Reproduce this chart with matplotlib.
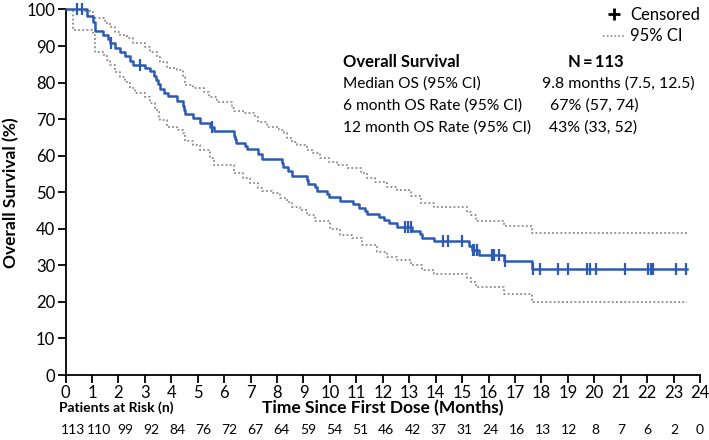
import numpy as np
import matplotlib
matplotlib.use('Agg')
import matplotlib.pyplot as plt
from matplotlib.lines import Line2D

plt.rcParams['font.family'] = 'Lato'

# Kaplan-Meier estimate (step times in months, survival % after the step)
km_times = [0, 0.80, 1.05, 1.12, 1.43, 1.62, 1.70, 1.88, 2.06, 2.25, 2.44, 2.56,
            3.01, 3.20, 3.34, 3.41, 3.51, 3.58, 3.74, 3.89, 4.21, 4.46, 4.50, 4.53,
            4.84, 5.10, 5.45, 5.61, 6.36, 6.40, 6.45, 6.80, 6.87, 7.30, 7.45, 8.18,
            8.24, 8.43, 8.56, 9.12, 9.19, 9.45, 9.50, 9.89, 9.95, 10.39, 10.89, 11.09,
            11.33, 11.40, 11.84, 12.05, 12.22, 12.54, 13.10, 13.40, 13.49, 13.93,
            15.26, 15.38, 15.64, 16.57, 17.65]
km_surv = [100, 98.2, 96.5, 94.0, 93.0, 92.0, 90.8, 89.6, 88.3, 87.2, 86.0, 84.9,
           84.0, 83.1, 81.9, 80.8, 79.5, 78.2, 77.2, 76.3, 74.9, 73.6, 72.4, 71.3,
           70.2, 69.0, 67.8, 66.8, 65.4, 64.5, 63.6, 62.7, 61.8, 60.5, 59.0, 57.9,
           56.8, 55.7, 54.5, 53.4, 52.2, 51.3, 50.4, 49.5, 48.6, 47.7, 46.8, 45.7,
           44.9, 44.0, 43.2, 42.3, 41.5, 40.4, 39.5, 38.5, 37.5, 36.6,
           35.4, 34.1, 32.9, 31.1, 29.1]
last_followup = 23.5

# censored observations
cens_times = [0.45, 0.62, 1.72, 2.80, 5.53, 12.86, 12.95, 13.05, 14.28, 14.47, 14.98,
              15.40, 15.47, 15.55, 16.15, 16.22, 16.38, 16.64, 17.67, 17.93, 18.64,
              19.01, 19.74, 19.83, 20.05, 21.18, 22.04, 22.13, 22.22, 23.08, 23.48]

# 95% confidence band
ci_up_times = [0, 0.74, 1.05, 1.50, 1.69, 1.88, 2.06, 2.32, 2.57, 3.01, 3.20, 3.45,
               3.58, 3.83, 4.21, 4.46, 4.53, 4.84, 5.22, 5.41, 5.73, 6.30, 6.36, 6.73,
               7.18, 7.30, 7.62, 8.06, 8.25, 8.38, 8.57, 8.76, 9.14, 9.33, 9.64, 9.95,
               10.27, 10.65, 11.16, 11.41, 11.72, 12.17, 12.55, 13.05, 13.43, 13.93,
               15.20, 15.32, 15.51, 16.58, 17.66]
ci_up = [100, 99.6, 97.6, 96.2, 95.3, 93.9, 93.0, 92.1, 90.8, 89.8, 88.5, 87.1,
         85.7, 83.9, 83.4, 81.6, 79.3, 78.4, 77.5, 76.1, 74.8, 73.0, 72.3, 71.6,
         70.7, 69.3, 67.9, 67.0, 66.1, 64.8, 63.8, 62.9, 61.6, 60.7, 59.3, 58.4,
         57.5, 56.6, 55.2, 53.8, 52.9, 51.5, 50.6, 49.0, 47.0, 45.9,
         44.7, 43.8, 42.2, 40.8, 38.9]
ci_lo_times = [0, 0.30, 1.05, 1.12, 1.43, 1.56, 1.69, 1.88, 2.06, 2.25, 2.44, 2.63,
               3.01, 3.20, 3.39, 3.52, 3.58, 3.83, 4.21, 4.46, 4.53, 4.84, 5.10, 5.45,
               5.61, 6.36, 6.73, 6.99, 7.30, 7.45, 7.81, 8.13, 8.38, 8.57, 8.88, 9.14,
               9.45, 10.02, 10.40, 10.84, 11.22, 11.79, 12.17, 12.55, 13.05, 13.49,
               13.93, 15.20, 15.32, 15.51, 16.58, 17.66]
ci_lo = [100, 94.4, 93.0, 88.5, 87.6, 86.2, 84.8, 83.0, 81.6, 80.2, 78.4, 77.1,
         76.1, 74.3, 72.5, 70.7, 69.8, 67.9, 66.9, 66.1, 63.9, 63.0, 61.6, 59.5,
         57.5, 55.2, 53.8, 52.4, 51.1, 50.4, 49.7, 48.3, 47.4, 46.0, 45.1, 43.8,
         42.0, 39.9, 38.3, 37.4, 35.6, 33.7, 32.4, 31.5, 30.1, 28.7,
         27.6, 26.5, 25.5, 24.2, 22.2, 20.1]

at_risk = [113, 110, 99, 92, 84, 76, 72, 67, 64, 59, 54, 51, 46, 42, 37, 31, 24,
           16, 13, 12, 8, 7, 6, 2, 0]

table_rows = ['Median OS (95% CI)', '6 month OS Rate (95% CI)', '12 month OS Rate (95% CI)']
table_vals = ['9.8 months (7.5, 12.5)', '67% (57, 74)', '43% (33, 52)']

blue = '#2c5ab4'
grey = '#8a8a8a'

W, H = 709, 440
fig = plt.figure(figsize=(W / 100, H / 100), dpi=100)
ax = fig.add_axes([65.5 / W, 65 / H, (700 - 65.5) / W, (375 - 9.5) / H])


def step_xy(t, s, end):
    return list(t) + [end], list(s) + [s[-1]]


dots = (0, (1, 1.3))
x, y = step_xy(ci_up_times, ci_up, last_followup)
ax.step(x, y, where='post', color=grey, lw=1.3, ls=dots)
x, y = step_xy(ci_lo_times, ci_lo, last_followup)
ax.step(x, y, where='post', color=grey, lw=1.3, ls=dots)
x, y = step_xy(km_times, km_surv, last_followup)
ax.step(x, y, where='post', color=blue, lw=1.8, clip_on=False, zorder=3)

# censor marks sit on the curve
idx = np.searchsorted(km_times, cens_times, side='right') - 1
cens_vals = np.array(km_surv)[idx]
ax.plot(cens_times, cens_vals, ls='none', marker='|', ms=8, mew=1.6,
        color=blue, clip_on=False, zorder=4)

ax.set_xlim(0, 24)
ax.set_ylim(0, 100)
ax.set_xticks(range(0, 25))
ax.set_yticks(range(0, 101, 10))
for side in ['top', 'right']:
    ax.spines[side].set_visible(False)
for side in ['left', 'bottom']:
    ax.spines[side].set_linewidth(1.3)
ax.tick_params(direction='out', length=6, width=1.3, labelsize=12, pad=1.5)
ax.set_ylabel('Overall Survival (%)', fontsize=12.5, fontweight='bold', labelpad=5)

# legend
handles = [Line2D([], [], ls='none', marker='+', ms=9, mew=2, color='black'),
           Line2D([], [], color=grey, lw=1.2, ls=dots)]
ax.legend(handles, ['Censored', '95% CI'], loc='upper right', bbox_to_anchor=(1.018, 1.04),
          frameon=False, fontsize=12, handlelength=1.3, handletextpad=0.3,
          labelspacing=0.35, borderpad=0.2)

# summary table
fig.text(343 / W, 1 - 62 / H, 'Overall Survival', fontsize=12, fontweight='bold', va='center')
fig.text(596 / W, 1 - 62 / H, 'N\u2009=\u2009113', fontsize=12, fontweight='bold',
         va='center', ha='center', family=['Lato', 'DejaVu Sans'])
val_x = [618, 594, 593]
for i, (lab, val) in enumerate(zip(table_rows, table_vals)):
    yy = 1 - (84 + 22 * i) / H
    fig.text(343 / W, yy, lab, fontsize=11.2, va='center')
    fig.text(val_x[i] / W, yy, val, fontsize=11.4, va='center', ha='center')

# x label and number at risk
fig.text((65.5 + 700) / 2 / W, 1 - 408 / H, 'Time Since First Dose (Months)',
         fontsize=12.5, fontweight='bold', ha='center', va='center')
fig.text(59 / W, 1 - 408 / H, 'Patients at Risk (n)', fontsize=10, fontweight='bold',
         ha='left', va='center')
risk_x = np.linspace(0.27, 24, len(at_risk))
for xx, n in zip(risk_x, at_risk):
    ax.annotate(str(n), xy=(xx, 0), xycoords=ax.get_xaxis_transform(),
                xytext=(0, -55 * 0.72), textcoords='offset points',
                fontsize=10, ha='center', va='center', annotation_clip=False)

fig.savefig('out.png', dpi=100)
